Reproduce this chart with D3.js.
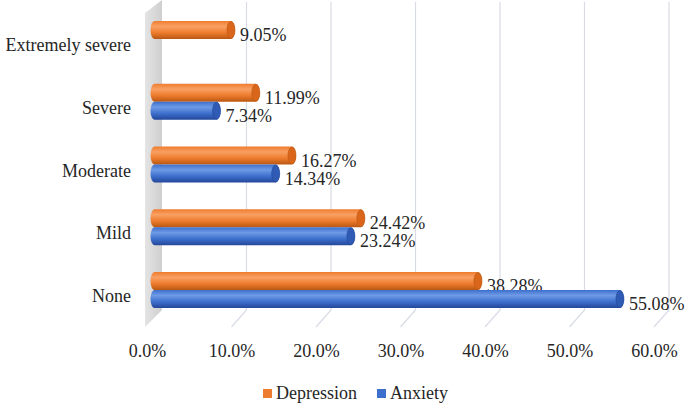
<!DOCTYPE html>
<html>
<head>
<meta charset="utf-8">
<script src="https://cdn.jsdelivr.net/npm/d3@7"></script>
<style>
  body { margin: 0; background: #fff; }
</style>
</head>
<body>
<svg id="chart" width="687" height="404"></svg>
<script>
// data
var categories = ["Extremely severe", "Severe", "Moderate", "Mild", "None"];
var seriesNames = ["Depression", "Anxiety"];
var depression = [9.05, 11.99, 16.27, 24.42, 38.28];
var anxiety = [null, 7.34, 14.34, 23.24, 55.08];
var ticks = [0, 10, 20, 30, 40, 50, 60];

var FONT = "'Liberation Serif', 'Times New Roman', Times, 'DejaVu Serif', serif";
var TEXT_COLOR = "#262626";

var colors = {
    Depression: { light: "#f9a064", mid: "#ee7c2e", dark: "#b95711", cap: "#d9661a" },
    Anxiety: { light: "#6e9ae6", mid: "#3d6fcc", dark: "#23479a", cap: "#2f5bb5" }
};

var svg = d3.select("#chart");
var defs = svg.append("defs");

// 3d depth offset (back wall is up and to the right)
var depthX = 15, depthY = -17;
var floorFront = 327;

var xFront = d3.scaleLinear().domain([0, 60]).range([147, 654]);
var xBar = d3.scaleLinear().domain([0, 60]).range([154.5, 661.5]);

var y = d3.scaleBand()
    .domain(categories)
    .range([7.6, 321.4]);

var ySub = d3.scaleBand()
    .domain(seriesNames)
    .range([-18, 18]);

function styleText(sel) {
    sel.style("font-family", FONT)
        .style("font-size", "18px")
        .style("fill", TEXT_COLOR);
}

// gradients for the cylinders
seriesNames.forEach(function(s) {
    var g = defs.append("linearGradient")
        .attr("id", "grad" + s)
        .attr("x1", 0).attr("y1", 0).attr("x2", 0).attr("y2", 1);
    g.append("stop").attr("offset", "0%").attr("stop-color", colors[s].mid);
    g.append("stop").attr("offset", "30%").attr("stop-color", colors[s].light);
    g.append("stop").attr("offset", "65%").attr("stop-color", colors[s].mid);
    g.append("stop").attr("offset", "100%").attr("stop-color", colors[s].dark);
});

var wallGrad = defs.append("linearGradient")
    .attr("id", "wallGrad")
    .attr("x1", 0).attr("y1", 0).attr("x2", 1).attr("y2", 0);
wallGrad.append("stop").attr("offset", "0%").attr("stop-color", "#e4e4e4");
wallGrad.append("stop").attr("offset", "100%").attr("stop-color", "#cfcfcf");

// gridlines on back wall + floor
var grid = svg.append("g");
ticks.slice(1).forEach(function(t) {
    var xb = xFront(t) + depthX;
    grid.append("path")
        .attr("d", "M" + xb + ",2 L" + xb + "," + (floorFront + depthY) +
            " L" + xFront(t) + "," + floorFront)
        .attr("fill", "none")
        .attr("stroke", "#d9dce6")
        .attr("stroke-width", 1.2);
});

// side wall
var x0 = xFront(0);
svg.append("path")
    .attr("d", "M" + (x0 - 2) + ",13 L" + (x0 + depthX) + ",0 L" + (x0 + depthX) + "," +
        (floorFront + depthY) + " L" + (x0 - 2) + "," + floorFront + "Z")
    .attr("fill", "url(#wallGrad)");

// bars
var rows = [];
categories.forEach(function(c, i) {
    rows.push({ cat: c, s: "Depression", v: depression[i] });
    if (anxiety[i] != null) rows.push({ cat: c, s: "Anxiety", v: anxiety[i] });
});

var barH = ySub.bandwidth();
var capRx = 4;

var bars = svg.append("g").selectAll("g")
    .data(rows)
    .enter().append("g");

function barTop(d) {
    return y(d.cat) + y.bandwidth() / 2 + ySub(d.s);
}

bars.append("path")
    .attr("d", function(d) {
        var t = barTop(d), x1 = xBar(0), x2 = xBar(d.v);
        return "M" + x1 + "," + t + " L" + x2 + "," + t +
            " A" + capRx + "," + (barH / 2) + " 0 0 1 " + x2 + "," + (t + barH) +
            " L" + x1 + "," + (t + barH) +
            " A" + capRx + "," + (barH / 2) + " 0 0 1 " + x1 + "," + t + "Z";
    })
    .attr("fill", d => "url(#grad" + d.s + ")");

bars.append("ellipse")
    .attr("cx", d => xBar(d.v))
    .attr("cy", d => barTop(d) + barH / 2)
    .attr("rx", capRx)
    .attr("ry", barH / 2 - 0.5)
    .attr("fill", d => colors[d.s].cap)
    .attr("stroke", d => colors[d.s].dark)
    .attr("stroke-width", 0.6);

// data labels
bars.append("text")
    .attr("x", d => xBar(d.v) + 9)
    .attr("y", d => barTop(d) + barH / 2 + 11)
    .call(styleText)
    .text(d => d.v.toFixed(2) + "%");

// category labels
svg.append("g").selectAll("text")
    .data(categories)
    .enter().append("text")
    .attr("x", 131)
    .attr("y", d => y(d) + y.bandwidth() / 2 + 12)
    .attr("text-anchor", "end")
    .call(styleText)
    .text(d => d);

// x axis labels
var xAxis = d3.axisBottom(xFront)
    .tickValues(ticks)
    .tickSize(0)
    .tickPadding(0)
    .tickFormat(d => d.toFixed(1) + "%");

var ax = svg.append("g")
    .attr("transform", "translate(0,344)")
    .call(xAxis);
ax.select(".domain").remove();
ax.selectAll("text").call(styleText);

// legend
var legend = svg.append("g")
    .attr("transform", "translate(263,389)");
var legX = [0, 114];
seriesNames.forEach(function(s, i) {
    var g = legend.append("g").attr("transform", "translate(" + legX[i] + ",0)");
    g.append("rect")
        .attr("width", 9).attr("height", 9)
        .attr("fill", colors[s].mid);
    g.append("text")
        .attr("x", 13)
        .attr("y", 10)
        .call(styleText)
        .text(s);
});
</script>
</body>
</html>
